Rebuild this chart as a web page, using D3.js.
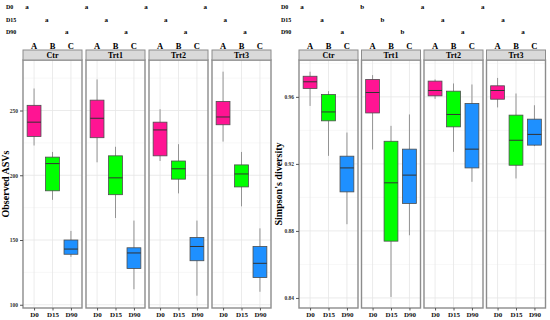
<!DOCTYPE html>
<html>
<head>
<meta charset="utf-8">
<script src="https://cdn.jsdelivr.net/npm/d3@7"></script>
<style>
  body { margin: 0; background: #fff; }
  svg { display: block; }
  svg text { font-family: "Liberation Serif", "Times New Roman", serif; font-weight: bold; }
</style>
</head>
<body>
<div id="chart"></div>
<script>
// facets, groups and letters
const panels = ['Ctr', 'Trt1', 'Trt2', 'Trt3'];
const days = ['D0', 'D15', 'D90'];
const groupLetters = ['A', 'B', 'C'];
const dayColors = ['#FF1493', '#00FF00', '#1E90FF'];

// Observed ASVs: [whisker low, q1, median, q3, whisker high] per day
const asvCtr = [[223, 230, 241, 254, 267], [181, 188, 209, 214, 218], [137, 139, 143, 150, 157]];
const asvTrt1 = [[210, 229, 244, 258, 274], [167, 185, 198, 215, 222], [112, 128, 140, 144, 165]];
const asvTrt2 = [[211, 215, 235, 241, 251], [186, 197, 205, 211, 224], [107, 134, 145, 152, 165]];
const asvTrt3 = [[226, 239, 245, 257, 280], [176, 191, 201, 208, 218], [110, 121, 132, 145, 159]];
const asvTicks = [100, 150, 200, 250];
const asvMinor = [125, 175, 225, 275];
const asvLetters = [['a', 'a', 'a'], ['a', 'a', 'a'], ['a', 'a', 'a'], ['a', 'a', 'a']];

// Simpson's diversity
const simCtr = [[0.9546, 0.965, 0.969, 0.9723, 0.975], [0.9248, 0.9457, 0.951, 0.9614, 0.9634], [0.884, 0.9033, 0.9176, 0.9246, 0.9387]];
const simTrt1 = [[0.9286, 0.9504, 0.9626, 0.9704, 0.973], [0.8406, 0.8739, 0.9087, 0.9335, 0.9427], [0.8774, 0.8964, 0.9133, 0.9288, 0.9495]];
const simTrt2 = [[0.9588, 0.9606, 0.9638, 0.9694, 0.9704], [0.9272, 0.9421, 0.9495, 0.9634, 0.968], [0.9093, 0.9176, 0.9288, 0.9561, 0.9674]];
const simTrt3 = [[0.9537, 0.9586, 0.9638, 0.9666, 0.9713], [0.9113, 0.9192, 0.9341, 0.9491, 0.962], [0.9306, 0.9312, 0.9376, 0.9467, 0.955]];
const simTicks = [0.84, 0.88, 0.92, 0.96];
const simMinor = [0.86, 0.90, 0.94, 0.98];
const simLetters = [['a', 'a', 'a'], ['b', 'b', 'b'], ['a', 'a', 'a'], ['a', 'a', 'a']];

const width = 550, height = 320;
const svg = d3.select('#chart').append('svg')
  .attr('width', width)
  .attr('height', height);

const panelTop = 60, panelBottom = 308, panelW = 59;

function drawChart(cfg) {
  const y = d3.scaleLinear().domain(cfg.domain).range([panelBottom, panelTop]);
  const g = svg.append('g');

  // letters block above
  const rowY = d3.scalePoint().domain(days).range([7, 32]);
  days.forEach(d => {
    g.append('text')
      .attr('x', cfg.rowLabelX).attr('y', rowY(d))
      .attr('dy', '0.35em')
      .attr('font-size', 6)
      .text(d);
  });
  const letterKeys = d3.cross(panels, days).map(k => k.join('-'));
  const lx = d3.scalePoint().domain(letterKeys).range(cfg.letterRange);
  panels.forEach((p, pi) => {
    days.forEach((d, di) => {
      g.append('text')
        .attr('x', lx(p + '-' + d)).attr('y', rowY(d))
        .attr('dy', '0.35em')
        .attr('text-anchor', 'middle')
        .attr('font-size', 7)
        .text(cfg.letters[pi][di]);
    });
  });

  panels.forEach((p, pi) => {
    const x0 = cfg.x0 + pi * cfg.step;
    const x = d3.scalePoint().domain(days).range([x0, x0 + panelW]).padding(0.6);
    const bw = x.step() * 0.75;
    const pg = g.append('g');

    // grid
    pg.selectAll('.minor').data(cfg.minor.filter(v => y(v) > panelTop)).enter()
      .append('line')
      .attr('x1', x0).attr('x2', x0 + panelW)
      .attr('y1', v => y(v)).attr('y2', v => y(v))
      .attr('stroke', '#F2F2F2').attr('stroke-width', 0.6);
    pg.selectAll('.major').data(cfg.ticks).enter()
      .append('line')
      .attr('x1', x0).attr('x2', x0 + panelW)
      .attr('y1', v => y(v)).attr('y2', v => y(v))
      .attr('stroke', '#E6E6E6').attr('stroke-width', 0.8);
    pg.selectAll('.vgrid').data(days).enter()
      .append('line')
      .attr('x1', d => x(d)).attr('x2', d => x(d))
      .attr('y1', panelTop).attr('y2', panelBottom)
      .attr('stroke', '#E6E6E6').attr('stroke-width', 0.8);

    // boxes
    const stats = cfg.stats[pi];
    days.forEach((d, di) => {
      const [lo, q1, med, q3, hi] = stats[di];
      const cx = x(d);
      pg.append('line')
        .attr('x1', cx).attr('x2', cx)
        .attr('y1', y(hi)).attr('y2', y(lo))
        .attr('stroke', '#8a8a8a').attr('stroke-width', 0.9);
      pg.append('rect')
        .attr('x', cx - bw / 2).attr('width', bw)
        .attr('y', y(q3)).attr('height', y(q1) - y(q3))
        .attr('fill', dayColors[di])
        .attr('stroke', '#4d4d4d').attr('stroke-width', 0.8);
      pg.append('line')
        .attr('x1', cx - bw / 2).attr('x2', cx + bw / 2)
        .attr('y1', y(med)).attr('y2', y(med))
        .attr('stroke', '#333').attr('stroke-width', 1);
    });

    // panel border
    pg.append('rect')
      .attr('x', x0).attr('y', panelTop)
      .attr('width', panelW).attr('height', panelBottom - panelTop)
      .attr('fill', 'none')
      .attr('stroke', '#8c8c8c').attr('stroke-width', 1.4);

    // strip
    pg.append('rect')
      .attr('x', x0).attr('y', 50)
      .attr('width', panelW).attr('height', 10)
      .attr('fill', '#D9D9D9')
      .attr('stroke', '#8c8c8c').attr('stroke-width', 1);
    pg.append('text')
      .attr('x', x0 + panelW / 2).attr('y', 55)
      .attr('dy', '0.35em')
      .attr('text-anchor', 'middle')
      .attr('font-size', 8)
      .text(p);

    // group letters above strip
    days.forEach((d, di) => {
      pg.append('text')
        .attr('x', x(d)).attr('y', 46)
        .attr('dy', '0.35em')
        .attr('text-anchor', 'middle')
        .attr('font-size', 8.5)
        .text(groupLetters[di]);
    });

    // bottom axis
    const ax = pg.append('g')
      .attr('transform', `translate(0,${panelBottom})`)
      .call(d3.axisBottom(x).tickSize(2.5).tickPadding(2));
    ax.attr('font-family', null);
    ax.select('.domain').remove();
    ax.selectAll('.tick line').attr('stroke', '#555');
    ax.selectAll('text')
      .attr('font-size', 7)
      .attr('fill', '#111');
  });

  // left axis
  const ay = g.append('g')
    .attr('transform', `translate(${cfg.x0},0)`)
    .call(d3.axisLeft(y).tickValues(cfg.ticks).tickFormat(cfg.format).tickSize(3).tickPadding(2));
  ay.attr('font-family', null);
  ay.select('.domain').remove();
  ay.selectAll('.tick line').attr('stroke', '#555');
  ay.selectAll('text')
    .attr('font-size', 5.5)
    .attr('fill', '#333');

  g.append('text')
    .attr('transform', `translate(${cfg.titleX},${(panelTop + panelBottom) / 2}) rotate(-90)`)
    .attr('text-anchor', 'middle')
    .attr('dy', '0.35em')
    .attr('font-size', 10)
    .text(cfg.title);
}

drawChart({
  x0: 23, step: 63,
  domain: [97.5, 289],
  ticks: asvTicks, minor: asvMinor,
  format: d3.format('d'),
  stats: [asvCtr, asvTrt1, asvTrt2, asvTrt3],
  letters: asvLetters,
  letterRange: [27, 245],
  rowLabelX: 6,
  titleX: 5,
  title: 'Observed ASVs'
});

drawChart({
  x0: 299, step: 62.5,
  domain: [0.834, 0.982],
  ticks: simTicks, minor: simMinor,
  format: d3.format('.2f'),
  stats: [simCtr, simTrt1, simTrt2, simTrt3],
  letters: simLetters,
  letterRange: [302, 523],
  rowLabelX: 281,
  titleX: 278,
  title: "Simpson's diversity"
});
</script>
</body>
</html>
